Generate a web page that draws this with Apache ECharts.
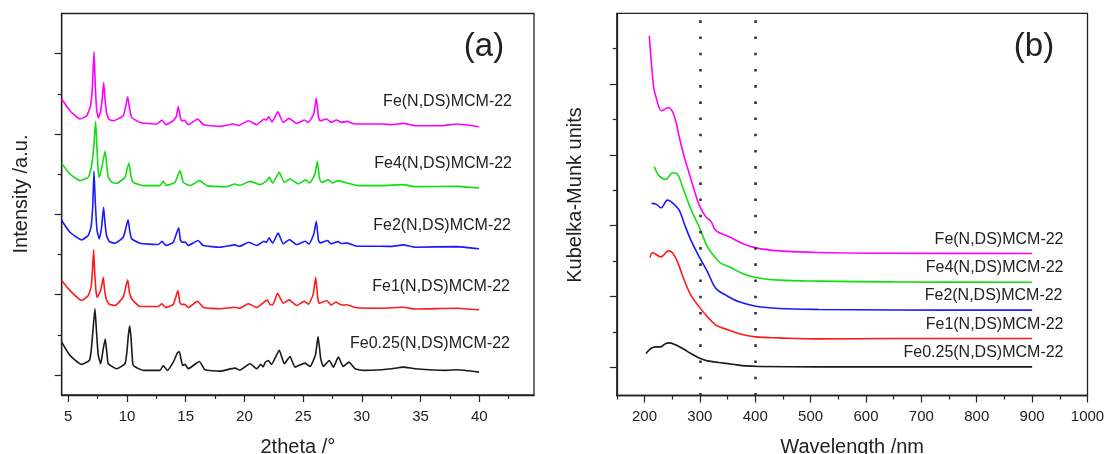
<!DOCTYPE html>
<html>
<head>
<meta charset="utf-8">
<script src="https://cdn.jsdelivr.net/npm/echarts@6/dist/echarts.min.js"></script>
<style>html,body{margin:0;padding:0;background:#fff}#c{width:1107px;height:454px}</style>
</head>
<body>
<div id="c"></div>
<script>
// ---- panel (a) XRD: [2theta, stacked intensity] ----
const xrdFe = [[4.44,3.435],[5.14,3.29],[6.0,3.187],[6.57,3.228],[6.9,3.35],[7.05,3.58],[7.19,4.027],[7.3,3.6],[7.42,3.3],[7.56,3.199],[7.75,3.28],[7.9,3.45],[8.01,3.642],[8.12,3.45],[8.27,3.25],[8.5,3.18],[8.83,3.165],[9.68,3.228],[9.9,3.35],[10.06,3.464],[10.22,3.32],[10.4,3.207],[11.1,3.144],[12.53,3.124],[12.98,3.174],[13.32,3.116],[13.94,3.165],[14.2,3.22],[14.37,3.343],[14.55,3.2],[14.66,3.165],[14.9,3.17],[15.22,3.116],[16.02,3.187],[16.5,3.116],[17.92,3.095],[19.05,3.124],[19.5,3.105],[20.33,3.165],[21.05,3.116],[21.67,3.187],[21.85,3.17],[22.07,3.215],[22.35,3.15],[22.84,3.275],[23.31,3.144],[23.8,3.194],[24.45,3.132],[25.1,3.174],[25.44,3.144],[25.9,3.25],[26.12,3.448],[26.3,3.22],[26.44,3.165],[27.01,3.187],[27.38,3.144],[27.86,3.174],[28.29,3.144],[28.71,3.157],[29.42,3.124],[31.69,3.124],[32.55,3.116],[33.53,3.132],[34.53,3.103],[36.8,3.103],[38.08,3.124],[39.98,3.09]];
const xrdFe4 = [[4.44,2.634],[5.14,2.502],[6.0,2.419],[6.7,2.46],[6.95,2.58],[7.15,2.8],[7.33,3.157],[7.45,2.8],[7.55,2.55],[7.64,2.46],[7.85,2.58],[8.0,2.7],[8.15,2.784],[8.28,2.6],[8.41,2.46],[8.7,2.4],[9.12,2.386],[9.83,2.46],[10.0,2.56],[10.17,2.639],[10.35,2.47],[10.54,2.398],[11.39,2.357],[12.81,2.357],[13.09,2.41],[13.35,2.36],[14.09,2.398],[14.51,2.544],[14.8,2.398],[15.37,2.357],[16.16,2.419],[16.79,2.357],[18.49,2.345],[19.2,2.378],[19.6,2.36],[20.48,2.41],[21.33,2.369],[21.9,2.419],[22.12,2.46],[22.4,2.39],[22.96,2.522],[23.4,2.398],[23.88,2.44],[24.59,2.378],[25.22,2.428],[25.55,2.39],[26.0,2.5],[26.21,2.659],[26.4,2.44],[26.58,2.398],[27.15,2.428],[27.49,2.39],[28.0,2.419],[28.71,2.39],[29.7,2.357],[31.69,2.357],[33.53,2.369],[34.53,2.345],[38.08,2.348],[39.98,2.328]];
const xrdFe2 = [[4.44,1.922],[5.14,1.776],[6.14,1.682],[6.7,1.735],[6.95,1.85],[7.08,2.1],[7.19,2.535],[7.3,2.15],[7.45,1.8],[7.64,1.694],[7.82,1.82],[7.93,1.98],[8.01,2.087],[8.12,1.9],[8.27,1.73],[8.5,1.66],[8.98,1.639],[9.68,1.714],[9.92,1.84],[10.09,1.93],[10.25,1.78],[10.4,1.694],[11.1,1.639],[12.67,1.623],[12.98,1.664],[13.32,1.611],[13.94,1.652],[14.4,1.831],[14.55,1.68],[14.69,1.652],[14.95,1.655],[15.22,1.611],[16.05,1.673],[16.5,1.611],[17.92,1.59],[19.2,1.619],[19.6,1.6],[20.37,1.652],[21.05,1.611],[21.67,1.664],[21.85,1.65],[22.1,1.706],[22.4,1.64],[22.87,1.765],[23.31,1.632],[23.83,1.685],[24.45,1.623],[25.16,1.664],[25.5,1.63],[25.9,1.75],[26.12,1.913],[26.3,1.68],[26.44,1.644],[27.09,1.673],[27.38,1.632],[27.95,1.66],[28.3,1.635],[28.71,1.644],[29.57,1.602],[31.69,1.602],[32.55,1.6],[33.53,1.619],[34.53,1.59],[38.08,1.598],[39.98,1.57]];
const xrdFe1 = [[4.44,1.175],[5.14,1.051],[6.14,0.927],[6.7,0.989],[6.95,1.1],[7.06,1.3],[7.16,1.557],[7.26,1.25],[7.38,1.02],[7.47,0.968],[7.75,1.05],[7.9,1.15],[7.98,1.216],[8.1,1.05],[8.27,0.93],[8.5,0.88],[8.98,0.864],[9.68,0.968],[9.9,1.1],[10.06,1.184],[10.22,1.02],[10.4,0.948],[11.1,0.852],[12.67,0.852],[12.95,0.886],[13.3,0.84],[13.94,0.877],[14.34,1.051],[14.5,0.9],[14.66,0.877],[14.9,0.88],[15.22,0.84],[16.0,0.918],[16.5,0.84],[17.92,0.823],[19.2,0.843],[19.6,0.83],[20.33,0.886],[21.05,0.84],[21.67,0.906],[21.95,0.935],[22.15,0.88],[22.4,0.87],[22.82,1.015],[23.31,0.893],[23.8,0.935],[24.45,0.864],[25.1,0.918],[25.44,0.88],[25.85,1.0],[26.07,1.216],[26.25,0.95],[26.38,0.893],[27.01,0.927],[27.38,0.87],[27.8,0.906],[28.29,0.87],[28.71,0.873],[29.57,0.836],[31.69,0.831],[33.53,0.843],[34.53,0.82],[38.08,0.831],[39.98,0.811]];
const xrdFe025 = [[4.44,0.408],[5.14,0.243],[6.14,0.131],[6.79,0.18],[6.95,0.3],[7.1,0.55],[7.27,0.823],[7.4,0.55],[7.55,0.25],[7.76,0.139],[7.95,0.3],[8.15,0.45],[8.3,0.25],[8.41,0.139],[9.12,0.077],[9.83,0.139],[10.0,0.3],[10.12,0.5],[10.23,0.607],[10.35,0.45],[10.45,0.22],[10.54,0.118],[11.39,0.056],[12.81,0.056],[13.09,0.118],[13.43,0.056],[13.94,0.159],[14.28,0.271],[14.45,0.292],[14.6,0.2],[14.74,0.118],[14.94,0.131],[15.22,0.077],[16.16,0.168],[16.64,0.065],[17.92,0.047],[19.2,0.085],[19.6,0.06],[20.48,0.139],[21.05,0.077],[21.39,0.131],[21.6,0.1],[21.78,0.159],[22.04,0.18],[22.3,0.13],[22.97,0.305],[23.4,0.139],[23.88,0.23],[24.31,0.097],[25.16,0.147],[25.59,0.106],[26.05,0.25],[26.27,0.479],[26.5,0.2],[26.72,0.106],[27.23,0.18],[27.57,0.097],[28.0,0.221],[28.42,0.106],[28.91,0.159],[29.42,0.077],[30.13,0.056],[31.69,0.065],[32.55,0.077],[33.53,0.097],[34.53,0.077],[37.1,0.056],[38.08,0.065],[39.98,0.035]];

// ---- panel (b) UV-vis: [wavelength nm, stacked K-M] ----
const uvFe = [[208.7,4.683],[216.4,3.962],[220.7,3.82],[230.9,3.623],[243.5,3.67],[250.7,3.61],[256.8,3.467],[262.7,3.255],[271.7,2.973],[280.8,2.738],[289.8,2.502],[298.8,2.29],[310.9,2.124],[320,2.06],[327,1.95],[335,1.9],[352.9,1.842],[376.9,1.748],[401,1.686],[443,1.644],[515,1.621],[650,1.61],[900,1.607]];
const uvFe4 = [[217.7,2.831],[225.4,2.714],[238.8,2.653],[250.7,2.747],[259.7,2.728],[268.7,2.549],[280.8,2.29],[292.8,2.078],[298.8,1.983],[313.8,1.70],[331.8,1.512],[340,1.46],[352.9,1.418],[376.9,1.324],[401,1.268],[443,1.23],[515,1.216],[650,1.205],[900,1.201]];
const uvFe2 = [[212.8,2.314],[220.7,2.304],[229.7,2.252],[241.7,2.36],[250.7,2.323],[262.7,2.219],[271.7,2.03],[283.8,1.795],[298.8,1.559],[313.8,1.347],[328.9,1.112],[346.9,1.018],[370.9,0.923],[401,0.862],[443,0.83],[515,0.816],[650,0.808],[900,0.806]];
const uvFe1 = [[209.9,1.55],[214.6,1.616],[229.7,1.559],[243.5,1.644],[250.7,1.616],[259.7,1.488],[271.7,1.23],[283.8,1.018],[298.8,0.852],[313.8,0.711],[328.9,0.594],[352.9,0.523],[376.9,0.462],[401,0.428],[443,0.414],[515,0.40],[650,0.405],[900,0.406]];
const uvFe025 = [[202.7,0.194],[211.7,0.264],[220.7,0.287],[229.7,0.287],[235.7,0.321],[243.5,0.344],[253.7,0.325],[268.7,0.264],[283.8,0.194],[298.8,0.131],[313.8,0.089],[334.8,0.066],[358.9,0.042],[382.9,0.018],[407,0.01],[515,0.004],[900,0.004]];

const seriesNames = ['Fe(N,DS)MCM-22','Fe4(N,DS)MCM-22','Fe2(N,DS)MCM-22','Fe1(N,DS)MCM-22','Fe0.25(N,DS)MCM-22'];
const seriesColors = ['#ff00ff','#11dd11','#1a1aff','#ff1a1a','#1a1a1a'];
const markWavelengths = [300, 400];

const xTicksA = [5,10,15,20,25,30,35,40];
const xMinorA = [7.5,12.5,17.5,22.5,27.5,32.5,37.5,42.5];
const xTicksB = [200,300,400,500,600,700,800,900,1000];
const xMinorB = [150,250,350,450,550,650,750,850,950];
const yTicksA = [0,1,2,3,4];
const yMinorA = [0.5,1.5,2.5,3.5];
const yTicksB = [0,1,2,3,4];
const yMinorB = [0.5,1.5,2.5,3.5,4.5];

const FONT = 'Arial, "Liberation Sans", sans-serif';
const INK = '#222';

function mainX(grid, min, max, ticks, name) {
  return {
    type:'value', gridIndex:grid, min:min, max:max, position:'bottom',
    name:name, nameLocation:'middle', nameGap:42,
    nameTextStyle:{fontFamily:FONT, fontSize:20, color:INK},
    axisLine:{show:true, onZero:false, lineStyle:{color:INK, width:1.3}},
    axisTick:{show:true, length:7, customValues:ticks, lineStyle:{color:INK, width:1.2}},
    axisLabel:{show:true, customValues:ticks, margin:14, fontFamily:FONT, fontSize:15, color:INK, formatter:v=>String(v)},
    splitLine:{show:false}
  };
}
function minorX(grid, min, max, ticks) {
  return {
    type:'value', gridIndex:grid, min:min, max:max, position:'bottom',
    axisLine:{show:false, onZero:false},
    axisTick:{show:true, length:4, customValues:ticks, lineStyle:{color:INK, width:1.2}},
    axisLabel:{show:false}, splitLine:{show:false}
  };
}
function mainY(grid, min, max, ticks) {
  return {
    type:'value', gridIndex:grid, min:min, max:max, position:'left',
    axisLine:{show:true, onZero:false, lineStyle:{color:INK, width:1.3}},
    axisTick:{show:true, length:7, customValues:ticks, lineStyle:{color:INK, width:1.2}},
    axisLabel:{show:false}, splitLine:{show:false}
  };
}
function minorY(grid, min, max, ticks) {
  return {
    type:'value', gridIndex:grid, min:min, max:max, position:'left',
    axisLine:{show:false, onZero:false},
    axisTick:{show:true, length:4, customValues:ticks, lineStyle:{color:INK, width:1.2}},
    axisLabel:{show:false}, splitLine:{show:false}
  };
}

const xrdData = [xrdFe, xrdFe4, xrdFe2, xrdFe1, xrdFe025];
const uvData = [uvFe, uvFe4, uvFe2, uvFe1, uvFe025];

const series = [];
xrdData.forEach((d,i)=>series.push({
  type:'line', name:seriesNames[i], xAxisIndex:0, yAxisIndex:0, data:d,
  showSymbol:false, smooth:0.15, lineStyle:{color:seriesColors[i], width:1.6}, silent:true, animation:false
}));
uvData.forEach((d,i)=>series.push({
  type:'line', name:seriesNames[i], xAxisIndex:2, yAxisIndex:2, data:d,
  showSymbol:false, smooth:0.35, lineStyle:{color:seriesColors[i], width:1.6}, silent:true, animation:false
}));
series.push({
  type:'line', xAxisIndex:2, yAxisIndex:2, data:[], silent:true, animation:false,
  markLine:{silent:true, symbol:['none','none'], label:{show:false}, animation:false,
    lineStyle:{color:'#333', width:2.6, type:[2.6,13.6]},
    data:markWavelengths.map(v=>({xAxis:v}))}
});

const labelsA = [[512,102],[512,164],[511,226],[510,287],[510,344]];
const labelsB = [[1063.5,240],[1063.5,268],[1062.5,296],[1063.5,325],[1063.5,353]];
const graphic = [];
seriesNames.forEach((n,i)=>{
  graphic.push({type:'text', x:labelsA[i][0], y:labelsA[i][1], style:{text:n, fill:INK, font:'16px '+FONT, textAlign:'right', textVerticalAlign:'middle'}});
  graphic.push({type:'text', x:labelsB[i][0], y:labelsB[i][1], style:{text:n, fill:INK, font:'16px '+FONT, textAlign:'right', textVerticalAlign:'middle'}});
});
graphic.push({type:'text', x:484, y:47, style:{text:'(a)', fill:INK, font:'33px '+FONT, textAlign:'center', textVerticalAlign:'middle'}});
graphic.push({type:'text', x:1034, y:47, style:{text:'(b)', fill:INK, font:'33px '+FONT, textAlign:'center', textVerticalAlign:'middle'}});
graphic.push({type:'text', x:21.5, y:194, rotation:Math.PI/2, style:{text:'Intensity /a.u.', fill:INK, font:'20px '+FONT, textAlign:'center', textVerticalAlign:'middle'}});
graphic.push({type:'text', x:575.5, y:195, rotation:Math.PI/2, style:{text:'Kubelka-Munk units', fill:INK, font:'20px '+FONT, textAlign:'center', textVerticalAlign:'middle'}});

const chart = echarts.init(document.getElementById('c'), null, {renderer:'canvas'});
chart.setOption({
  animation:false,
  backgroundColor:'#fff',
  grid:[
    {left:61.7, top:13.5, width:472.3, height:381.5, outerBoundsMode:'none', containLabel:false, show:true, borderColor:INK, borderWidth:1.3, backgroundColor:'transparent'},
    {left:616.8, top:13.3, width:470.7, height:382.2, outerBoundsMode:'none', containLabel:false, show:true, borderColor:INK, borderWidth:1.3, backgroundColor:'transparent'}
  ],
  xAxis:[
    mainX(0, 4.44, 44.66, xTicksA, '2theta /°'),
    minorX(0, 4.44, 44.66, xMinorA),
    mainX(1, 150, 1000, xTicksB, 'Wavelength /nm'),
    minorX(1, 150, 1000, xMinorB)
  ],
  yAxis:[
    mainY(0, -0.25, 4.5, yTicksA),
    minorY(0, -0.25, 4.5, yMinorA),
    mainY(1, -0.4, 5.0, yTicksB),
    minorY(1, -0.4, 5.0, yMinorB)
  ],
  series:series,
  graphic:graphic
});
</script>
</body>
</html>
